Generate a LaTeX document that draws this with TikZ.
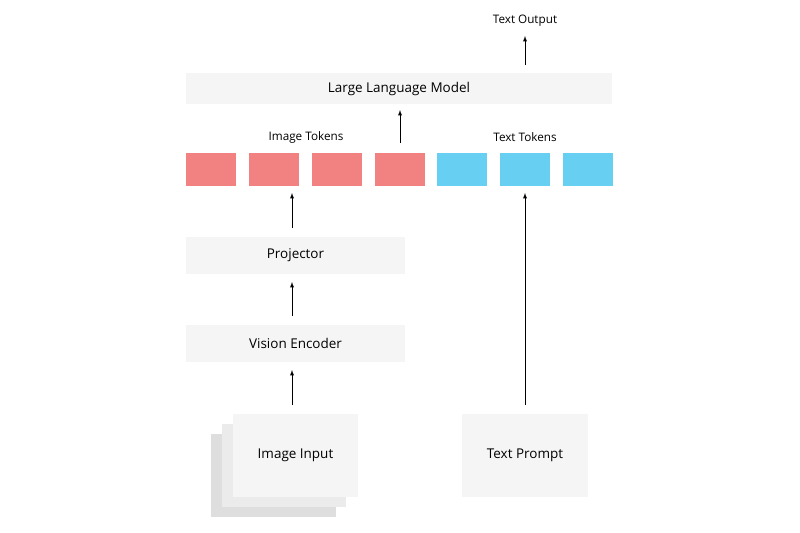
\documentclass[tikz,border=0pt]{standalone}
\usepackage{fontspec}
\setmainfont{Open Sans}
\usetikzlibrary{positioning, arrows}
\definecolor{boxgray}{HTML}{F5F5F5}
\definecolor{tokred}{HTML}{F28282}
\definecolor{tokblue}{HTML}{66CFF2}
\tikzset{%
    % boxes of the pipeline
    stage/.style  = {rectangle, fill=boxgray, inner sep=0pt, font=\fontsize{11.5}{13}\selectfont},
    imgtok/.style = {rectangle, fill=tokred, minimum width=1.5cm, minimum height=0.99cm, inner sep=0pt},
    txttok/.style = {rectangle, fill=tokblue, minimum width=1.5cm, minimum height=0.99cm, inner sep=0pt},
    caption/.style= {font=\fontsize{10}{12}\selectfont},
    arc/.style    = {-latex, semithick, black}
}
\begin{document}
\begin{tikzpicture}[x=0.03cm, y=-0.03cm]
	\useasboundingbox (0,0) rectangle (800,533);
	
	% placement des noeuds
	\node[stage, minimum width=12.78cm, minimum height=0.93cm] (llm) at (399,88.5) {Large Language Model};
	\node[caption] (out) at (525,21) {Text Output};
	\coordinate (outfoot) at (525,65);
	\coordinate (outhead) at (525,36);
	\draw[arc] (outfoot) -- (outhead);
	\node[caption] (imgcap) at (306,137) {Image Tokens};
	\node[caption] (txtcap) at (525,137) {Text Tokens};
	\node[imgtok] (t1) at (211,169.5) {};
	\node[imgtok] (t2) at (274,169.5) {};
	\node[imgtok] (t3) at (337,169.5) {};
	\node[imgtok] (t4) at (400,169.5) {};
	\node[txttok] (t5) at (462,169.5) {};
	\node[txttok] (t6) at (525,169.5) {};
	\node[txttok] (t7) at (588,169.5) {};
	% arrows end and start points
	\coordinate (a1) at (400,143); \coordinate (b1) at (400,110);
	\coordinate (a2) at (292,228); \coordinate (b2) at (292,193);
	\coordinate (a3) at (292,316); \coordinate (b3) at (292,282);
	\coordinate (a4) at (292,405); \coordinate (b4) at (292,370);
	\coordinate (a5) at (525,405); \coordinate (b5) at (525,193);
	\draw[arc] (a1) -- (b1);
	\node[stage, minimum width=6.57cm, minimum height=1.11cm] (proj) at (295.5,255.5) {Projector};
	\draw[arc] (a2) -- (b2);
	\node[stage, minimum width=6.57cm, minimum height=1.11cm] (enc) at (295.5,343.5) {Vision Encoder};
	\draw[arc] (a3) -- (b3);
	% image stack
	\fill[black!13] (211,434) rectangle (336,517);
	\fill[black!8] (222,424) rectangle (346,507);
	\node[stage, minimum width=3.75cm, minimum height=2.49cm] (img) at (295.5,455.5) {Image Input};
	\draw[arc] (a4) -- (b4);
	\node[stage, minimum width=3.78cm, minimum height=2.49cm] (prompt) at (525,455.5) {Text Prompt};
	\draw[arc] (a5) -- (b5);
	
\end{tikzpicture}
\end{document}
